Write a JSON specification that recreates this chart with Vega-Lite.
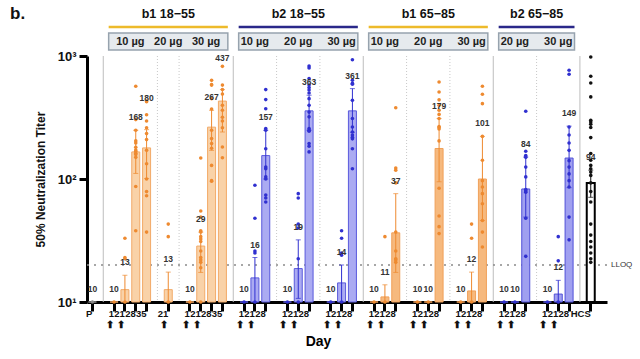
{
"$schema":"https://vega.github.io/schema/vega-lite/v6.json",
"width":520,"height":246,
"autosize":"none",
"padding":{"left":87,"top":56,"right":33,"bottom":57},
"config":{"font":"Liberation Sans","view":{"stroke":null}},
"datasets":{
"bars":[
{"cat":"P","c":"P","gmt":10,"lo":10,"hi":10,"label":"10"},
{"cat":"g1_10_1","c":"b1y","gmt":10,"lo":10,"hi":10,"label":"10"},
{"cat":"g1_10_21","c":"b1y","gmt":12.6,"lo":10,"hi":16.5,"label":"13"},
{"cat":"g1_10_28","c":"b1y","gmt":166,"lo":111,"hi":249,"label":"168"},
{"cat":"g1_10_35","c":"b1y","gmt":179,"lo":101,"hi":252,"label":"180"},
{"cat":"g1_20_21","c":"b1y","gmt":12.6,"lo":10,"hi":17.5,"label":"13"},
{"cat":"g1_30_1","c":"b1y","gmt":10,"lo":10,"hi":10,"label":"10"},
{"cat":"g1_30_21","c":"b1y","gmt":28.5,"lo":17.4,"hi":37,"label":"29"},
{"cat":"g1_30_28","c":"b1y","gmt":264,"lo":171,"hi":362,"label":"267"},
{"cat":"g1_30_35","c":"b1y","gmt":430,"lo":241,"hi":533,"label":"437"},
{"cat":"g2_10_1","c":"b2y","gmt":10,"lo":10,"hi":10,"label":"10"},
{"cat":"g2_10_21","c":"b2y","gmt":15.7,"lo":10,"hi":23,"label":"16"},
{"cat":"g2_10_28","c":"b2y","gmt":155,"lo":100,"hi":249,"label":"157"},
{"cat":"g2_20_1","c":"b2y","gmt":10,"lo":10,"hi":10,"label":"10"},
{"cat":"g2_20_21","c":"b2y","gmt":18.7,"lo":10.7,"hi":32,"label":"19"},
{"cat":"g2_20_28","c":"b2y","gmt":358,"lo":249,"hi":480,"label":"363"},
{"cat":"g2_30_1","c":"b2y","gmt":10,"lo":10,"hi":10,"label":"10"},
{"cat":"g2_30_21","c":"b2y","gmt":14.3,"lo":10,"hi":20,"label":"14"},
{"cat":"g2_30_28","c":"b2y","gmt":358,"lo":240,"hi":543,"label":"361"},
{"cat":"g3_10_1","c":"b1o","gmt":10,"lo":10,"hi":10,"label":"10"},
{"cat":"g3_10_21","c":"b1o","gmt":11,"lo":10,"hi":13.8,"label":"11"},
{"cat":"g3_10_28","c":"b1o","gmt":36.5,"lo":17.4,"hi":76,"label":"37"},
{"cat":"g3_20_1","c":"b1o","gmt":10,"lo":10,"hi":10,"label":"10"},
{"cat":"g3_20_21","c":"b1o","gmt":10,"lo":10,"hi":10,"label":"10"},
{"cat":"g3_20_28","c":"b1o","gmt":177,"lo":95,"hi":310,"label":"179"},
{"cat":"g3_30_1","c":"b1o","gmt":10,"lo":10,"hi":10,"label":"10"},
{"cat":"g3_30_21","c":"b1o","gmt":12.3,"lo":10,"hi":17.5,"label":"12"},
{"cat":"g3_30_28","c":"b1o","gmt":100,"lo":46,"hi":222,"label":"101"},
{"cat":"g4_20_1","c":"b2o","gmt":10,"lo":10,"hi":10,"label":"10"},
{"cat":"g4_20_21","c":"b2o","gmt":10,"lo":10,"hi":10,"label":"10"},
{"cat":"g4_20_28","c":"b2o","gmt":83,"lo":49,"hi":151,"label":"84"},
{"cat":"g4_30_1","c":"b2o","gmt":10,"lo":10,"hi":10,"label":"10"},
{"cat":"g4_30_21","c":"b2o","gmt":11.6,"lo":10,"hi":15,"label":"12"},
{"cat":"g4_30_28","c":"b2o","gmt":148,"lo":85,"hi":269,"label":"149"},
{"cat":"HCS","c":"HCS","gmt":93,"lo":71,"hi":118,"label":"94"}
],
"pts":[
{"cat":"P","c":"P","v":[10]},
{"cat":"g1_10_1","c":"b1y","v":[10]},
{"cat":"g1_10_21","c":"b1y","v":[33,23,22.5,10]},
{"cat":"g1_10_28","c":"b1y","v":[567,304,249,204,196,181,172,168,162,158,150,87,38]},
{"cat":"g1_10_35","c":"b1y","v":[431,425,333,296,261,234,209,171,133,100,79,73,37]},
{"cat":"g1_20_21","c":"b1y","v":[43,34,10]},
{"cat":"g1_30_1","c":"b1y","v":[10]},
{"cat":"g1_30_21","c":"b1y","v":[148,55,49,38,37,34,32.5,31,26,23,22,21,19,10]},
{"cat":"g1_30_28","c":"b1y","v":[634,585,580,450,370,249,213,194,178,129,97,96]},
{"cat":"g1_30_35","c":"b1y","v":[824,580,533,490,397,362,318,296,261,182,149]},
{"cat":"g2_10_1","c":"b2y","v":[10]},
{"cat":"g2_10_21","c":"b2y","v":[89,48,26,25,10]},
{"cat":"g2_10_28","c":"b2y","v":[533,442,373,257,249,176,125,121,104,100,74,70,65]},
{"cat":"g2_20_1","c":"b2y","v":[10]},
{"cat":"g2_20_21","c":"b2y","v":[76,70,43,40,22.5,10]},
{"cat":"g2_20_28","c":"b2y","v":[830,800,655,580,555,530,500,450,397,350,320,257,249,245,194,185,166]},
{"cat":"g2_30_1","c":"b2y","v":[10]},
{"cat":"g2_30_21","c":"b2y","v":[38,33,25,24,10]},
{"cat":"g2_30_28","c":"b2y","v":[933,635,600,590,436,310,265,241,228,218,212,176,121]},
{"cat":"g3_10_1","c":"b1o","v":[10]},
{"cat":"g3_10_21","c":"b1o","v":[34,10]},
{"cat":"g3_10_28","c":"b1o","v":[380,123,118,93,37,26,22.5,22,21]},
{"cat":"g3_20_1","c":"b1o","v":[10]},
{"cat":"g3_20_21","c":"b1o","v":[10]},
{"cat":"g3_20_28","c":"b1o","v":[615,510,440,397,362,335,310,267,262,255,204,84,50,41,36]},
{"cat":"g3_30_1","c":"b1o","v":[10]},
{"cat":"g3_30_21","c":"b1o","v":[43,33,10]},
{"cat":"g3_30_28","c":"b1o","v":[567,489,410,222,142,97,86,76,63,46,37,28]},
{"cat":"g4_20_1","c":"b2o","v":[10]},
{"cat":"g4_20_21","c":"b2o","v":[10]},
{"cat":"g4_20_28","c":"b2o","v":[355,168,155,150,125,104,82,80,78,48,23.5]},
{"cat":"g4_30_1","c":"b2o","v":[10]},
{"cat":"g4_30_21","c":"b2o","v":[34,21.6,10]},
{"cat":"g4_30_28","c":"b2o","v":[766,710,265,228,196,171,141,125,110,97,86,49,32]},
{"cat":"HCS","c":"HCS","v":[982,684,604,465,300,291,279,262,217,161,142,129,121,114,107,93,79,65,43,35,31,28,25,22.5,21]}
],
"seps":[
{"cat":"sp1","kind":"group"},{"cat":"sp2","kind":"sub"},{"cat":"sp3","kind":"sub"},{"cat":"sp4","kind":"group"},
{"cat":"sp5","kind":"sub"},{"cat":"sp6","kind":"sub"},{"cat":"sp7","kind":"group"},{"cat":"sp8","kind":"sub"},
{"cat":"sp9","kind":"sub"},{"cat":"sp10","kind":"group"},{"cat":"sp11","kind":"sub"},{"cat":"sp12","kind":"group"}
],
"hdr":[
{"grp":"b1 18−55","first":"g1_10_1","last":"g1_30_35","mid":"g1_20_21","c":"b1"},
{"grp":"b2 18−55","first":"g2_10_1","last":"g2_30_28","mid":"g2_20_21","c":"b2"},
{"grp":"b1 65−85","first":"g3_10_1","last":"g3_30_28","mid":"g3_20_21","c":"b1"},
{"grp":"b2 65−85","first":"g4_20_1","last":"g4_30_28","mid":"sp11","c":"b2"}
],
"dose":[
{"dose":"10 µg","at":"g1_10_21","n":4},{"dose":"20 µg","at":"g1_20_21","n":1},{"dose":"30 µg","at":"g1_30_21","n":4},
{"dose":"10 µg","at":"g2_10_21","n":3},{"dose":"20 µg","at":"g2_20_21","n":3},{"dose":"30 µg","at":"g2_30_21","n":3},
{"dose":"10 µg","at":"g3_10_21","n":3},{"dose":"20 µg","at":"g3_20_21","n":3},{"dose":"30 µg","at":"g3_30_21","n":3},
{"dose":"20 µg","at":"g4_20_21","n":3},{"dose":"30 µg","at":"g4_30_21","n":3}
]
},
"layer":[
{"data":{"name":"seps"},"transform":[{"filter":"datum.kind=='group'"}],
 "mark":{"type":"rule","color":"#BDBDBD","strokeWidth":1},
 "encoding":{"x":{"field":"cat","type":"nominal","scale":{"type":"band","paddingInner":0,"paddingOuter":0,"domain":["P","sp1","g1_10_1","g1_10_21","g1_10_28","g1_10_35","sp2","g1_20_21","sp3","g1_30_1","g1_30_21","g1_30_28","g1_30_35","sp4","g2_10_1","g2_10_21","g2_10_28","sp5","g2_20_1","g2_20_21","g2_20_28","sp6","g2_30_1","g2_30_21","g2_30_28","sp7","g3_10_1","g3_10_21","g3_10_28","sp8","g3_20_1","g3_20_21","g3_20_28","sp9","g3_30_1","g3_30_21","g3_30_28","sp10","g4_20_1","g4_20_21","g4_20_28","sp11","g4_30_1","g4_30_21","g4_30_28","sp12","HCS","sp13"]},"title":"Day"}}},
{"data":{"name":"seps"},"transform":[{"filter":"datum.kind=='sub'"}],
 "mark":{"type":"rule","color":"#C8C8C8","strokeWidth":1,"strokeDash":[1,2]},
 "encoding":{"x":{"field":"cat","type":"nominal","title":"Day"}}},
{"data":{"values":[{}]},
 "mark":{"type":"rule","color":"#8A8A8A","strokeWidth":1.5,"strokeDash":[2,5]},
 "encoding":{"y":{"datum":20,"type":"quantitative","scale":{"type":"log","domain":[10,1000]}}}},
{"data":{"name":"bars"},
 "mark":{"type":"bar","size":8},
 "encoding":{
  "x":{"field":"cat","type":"nominal","title":"Day",
   "axis":{"labelAngle":0,"labelFontSize":9.5,"labelFontWeight":"bold","labelColor":"#111","labelLineHeight":11,"labelPadding":2,
    "tickSize":9,"tickWidth":3,"tickColor":"#000","domainWidth":3,"domainColor":"#000","labelOverlap":false,
    "tickOpacity":{"condition":{"test":"indexof(datum.value,'sp')==0","value":0},"value":1},
    "labelExpr":"indexof(datum.value,'sp')==0 ? '' : (indexof(datum.value,'_')<0 ? datum.value : ((slice(datum.value, lastindexof(datum.value,'_')+1)=='1' || slice(datum.value, lastindexof(datum.value,'_')+1)=='21') ? [slice(datum.value, lastindexof(datum.value,'_')+1), '⬆'] : slice(datum.value, lastindexof(datum.value,'_')+1)))",
    "title":"Day","titleFontSize":14,"titleFontWeight":"bold","titlePadding":6,"titleX":231}},
  "y":{"field":"gmt","type":"quantitative","scale":{"type":"log","domain":[10,1000]},"title":"50% Neutralization Titer",
   "axis":{"values":[10,100,1000],"labelExpr":"datum.value==10?'10¹':(datum.value==100?'10²':'10³')","labelFontSize":13,"labelFontWeight":"bold","labelColor":"#111",
    "tickSize":8,"tickWidth":3,"tickColor":"#000","domainWidth":3,"domainColor":"#000","grid":false,"labelPadding":3,
    "titleFontSize":12,"titleFontWeight":"bold","titleColor":"#111","titlePadding":10}},
  "y2":{"datum":10},
  "fill":{"field":"c","type":"nominal","legend":null,"scale":{"domain":["P","b1y","b1o","b2y","b2o","HCS"],"range":["#AAAAAA","#F9D2A8","#F6B97E","#ABABF2","#A0A0F0","#FFFFFF"]}},
  "stroke":{"field":"c","type":"nominal","legend":null,"scale":{"domain":["P","b1y","b1o","b2y","b2o","HCS"],"range":["#888888","#F2AA68","#F0A05A","#5A5ADC","#5050D8","#000000"]}},
  "strokeWidth":{"condition":{"test":"datum.c=='HCS'","value":2},"value":1}
 }},
{"data":{"name":"bars"},"transform":[{"filter":"datum.hi > datum.lo"}],
 "mark":{"type":"errorbar","ticks":true,"size":5,"thickness":1},
 "encoding":{
  "x":{"field":"cat","type":"nominal","title":"Day"},
  "y":{"field":"lo","type":"quantitative","scale":{"type":"log","domain":[10,1000]},"title":"50% Neutralization Titer"},
  "y2":{"field":"hi"},
  "color":{"field":"c","type":"nominal","legend":null,"scale":{"domain":["P","b1y","b1o","b2y","b2o","HCS","b1","b2"],"range":["#888888","#EE8A30","#EE8A30","#3030D0","#3030D0","#111111","#EDBA2B","#2A2889"]}}
 }},
{"data":{"name":"pts"},"transform":[{"flatten":["v"]}],
 "mark":{"type":"point","filled":true,"size":13,"opacity":1},
 "encoding":{
  "x":{"field":"cat","type":"nominal","title":"Day"},
  "y":{"field":"v","type":"quantitative","scale":{"type":"log","domain":[10,1000]},"title":"50% Neutralization Titer"},
  "color":{"field":"c","type":"nominal","legend":null}
 }},
{"data":{"name":"bars"},"transform":[{"filter":"slice(datum.cat,-3)!='_35'"}],
 "mark":{"type":"text","dy":-13,"fontSize":8.5,"fontWeight":"bold","color":"#333"},
 "encoding":{
  "x":{"field":"cat","type":"nominal","title":"Day"},
  "y":{"field":"hi","type":"quantitative","scale":{"type":"log","domain":[10,1000]},"title":"50% Neutralization Titer"},
  "text":{"field":"label"}
 }},
{"data":{"name":"bars"},"transform":[{"filter":"slice(datum.cat,-3)=='_35'"}],
 "mark":{"type":"text","dy":-32,"fontSize":8.5,"fontWeight":"bold","color":"#333"},
 "encoding":{
  "x":{"field":"cat","type":"nominal","title":"Day"},
  "y":{"field":"hi","type":"quantitative","scale":{"type":"log","domain":[10,1000]},"title":"50% Neutralization Titer"},
  "text":{"field":"label"}
 }},
{"data":{"name":"hdr"},
 "mark":{"type":"rect","fill":"#E6EAEE","stroke":"#97A3AE","strokeWidth":1.5},
 "encoding":{
  "x":{"field":"first","type":"nominal","bandPosition":0,"title":"Day"},
  "x2":{"field":"last","bandPosition":1},
  "y":{"datum":1119,"type":"quantitative"},
  "y2":{"datum":1538}
 }},
{"data":{"name":"hdr"},
 "mark":{"type":"rule","strokeWidth":2.5},
 "encoding":{
  "x":{"field":"first","type":"nominal","bandPosition":0,"title":"Day"},
  "x2":{"field":"last","bandPosition":1},
  "y":{"datum":1722,"type":"quantitative"},
  "color":{"field":"c","type":"nominal","legend":null}
 }},
{"data":{"name":"hdr"},
 "mark":{"type":"text","fontSize":12.5,"fontWeight":"bold","color":"#111"},
 "encoding":{
  "x":{"field":"mid","type":"nominal","title":"Day"},
  "y":{"datum":2200,"type":"quantitative"},
  "text":{"field":"grp"}
 }},
{"data":{"name":"dose"},"transform":[{"filter":"datum.n==4"}],
 "mark":{"type":"text","fontSize":11,"fontWeight":"bold","color":"#222"},
 "encoding":{
  "x":{"field":"at","type":"nominal","bandPosition":1,"title":"Day"},
  "y":{"datum":1300,"type":"quantitative"},
  "text":{"field":"dose"}
 }},
{"data":{"name":"dose"},"transform":[{"filter":"datum.n!=4"}],
 "mark":{"type":"text","fontSize":11,"fontWeight":"bold","color":"#222"},
 "encoding":{
  "x":{"field":"at","type":"nominal","title":"Day"},
  "y":{"datum":1300,"type":"quantitative"},
  "text":{"field":"dose"}
 }},
{"data":{"values":[{}]},
 "mark":{"type":"text","align":"left","fontSize":17,"fontWeight":"bold","color":"#111","text":"b.","dx":-77},
 "encoding":{
  "x":{"datum":"P","type":"nominal","bandPosition":0,"title":"Day"},
  "y":{"datum":2200,"type":"quantitative"}
 }},
{"data":{"values":[{}]},
 "mark":{"type":"text","align":"left","dx":4,"fontSize":8,"color":"#333","text":"LLOQ"},
 "encoding":{
  "x":{"datum":"sp13","type":"nominal","bandPosition":1,"title":"Day"},
  "y":{"datum":20,"type":"quantitative"}
 }}
]
}
